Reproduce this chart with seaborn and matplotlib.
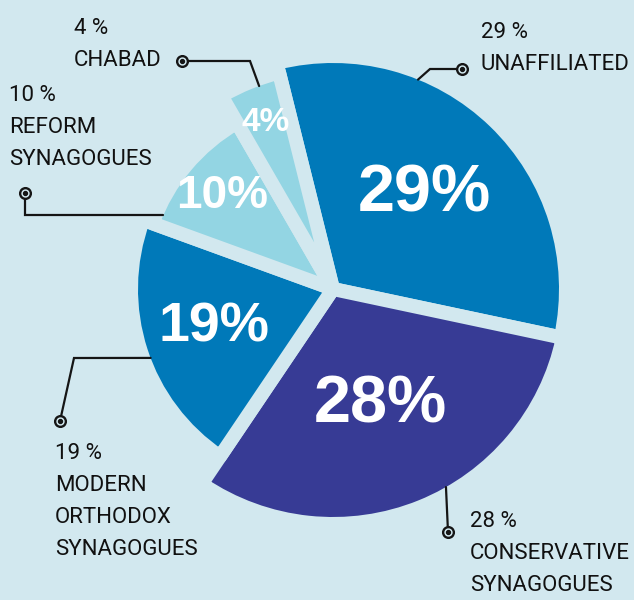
import numpy as np
import matplotlib
matplotlib.use("Agg")
import matplotlib.pyplot as plt
import seaborn as sns

# ---------------- data ----------------
categories = ["UNAFFILIATED", "CONSERVATIVE\nSYNAGOGUES", "MODERN\nORTHODOX\nSYNAGOGUES",
              "REFORM\nSYNAGOGUES", "CHABAD"]
shares = [29, 28, 19, 10, 4]
pct_labels = ["29%", "28%", "19%", "10%", "4%"]
callout_labels = ["29 %", "28 %", "19 %", "10 %", "4 %"]

# ---------------- style ----------------
BG = "#D2E8EF"
slice_colors = ["#0079B9", "#373B95", "#0079B9", "#93D5E3", "#93D5E3"]
W, H = 634, 600

sns.set_theme(style="white", rc={"figure.facecolor": BG, "axes.facecolor": BG})
plt.rcParams["font.family"] = ["Roboto", "Liberation Sans", "DejaVu Sans"]

fig = plt.figure(figsize=(W / 100, H / 100), dpi=100)
ax = fig.add_axes([0, 0, 1, 1])


def py(y):
    return H - y


cx, cy = 333, py(289)
GAP = 14                                   # px gap between slices
vis_r = [226, 228, 195, 185, 216]          # visible radius of each slice (px)
pct_dist = [0.58, 0.55, 0.64, 0.78, 0.83]  # label position along radius
pct_size = [48, 48, 40, 33, 24]

wedges, _ = ax.pie(shares, colors=sns.color_palette(slice_colors), startangle=104,
                   counterclock=False, center=(cx, cy), radius=1,
                   wedgeprops=dict(edgecolor=BG, linewidth=GAP * 72 / 100,
                                   joinstyle="round"))
for w, r in zip(wedges, vis_r):
    w.set_radius(r + GAP / 2)

for w, r, d, s, fs in zip(wedges, vis_r, pct_dist, pct_labels, pct_size):
    mid = np.deg2rad((w.theta1 + w.theta2) / 2)
    ax.text(cx + d * r * np.cos(mid), cy + d * r * np.sin(mid), s, ha="center",
            va="center", color="white", fontsize=fs, fontweight="bold",
            family=["Liberation Sans", "DejaVu Sans"], zorder=5)


def arc_point(i, ang):
    a = np.deg2rad(ang)
    return cx + vis_r[i] * np.cos(a), cy + vis_r[i] * np.sin(a)


# callouts: (slice index, dot px, elbow px or None, target angle, text top-left px)
callouts = [
    (0, (462, 69), (430, 69), 67.9, (481, 22)),
    (1, (448, 532), None, -60.3, (470, 511)),
    (2, (60, 421), (74, 358), 200.7, (55, 443)),
    (3, (25, 193), "v", 156.5, (9, 85)),
    (4, (182, 61), (250, 61), 110, (74, 18)),
]

LINE = "#151515"
for i, dot, elbow, ang, tpos in callouts:
    tx, ty = arc_point(i, ang)
    dx, dy = dot[0], py(dot[1])
    if elbow is None:
        xs, ys = [dx, tx], [dy, ty]
    elif elbow == "v":
        xs, ys = [dx, dx, tx], [dy, ty, ty]
    else:
        xs, ys = [dx, elbow[0], tx], [dy, py(elbow[1]), ty]
    ax.plot(xs, ys, color=LINE, lw=1.6, solid_joinstyle="miter", zorder=3)
    ax.plot([dx], [dy], marker="o", ms=8.4, color=LINE, zorder=4)
    ax.plot([dx], [dy], marker="o", ms=5.0, color=BG, zorder=4.1)
    ax.plot([dx], [dy], marker="o", ms=2.8, color=LINE, zorder=4.2)
    ax.text(tpos[0], py(tpos[1]), callout_labels[i] + "\n" + categories[i],
            ha="left", va="top", fontsize=16, color="#111111", linespacing=1.68,
            zorder=5)

ax.set_xlim(0, W)
ax.set_ylim(0, H)
ax.set_aspect("auto")
ax.axis("off")

fig.savefig("out.png", dpi=100, facecolor=BG)
